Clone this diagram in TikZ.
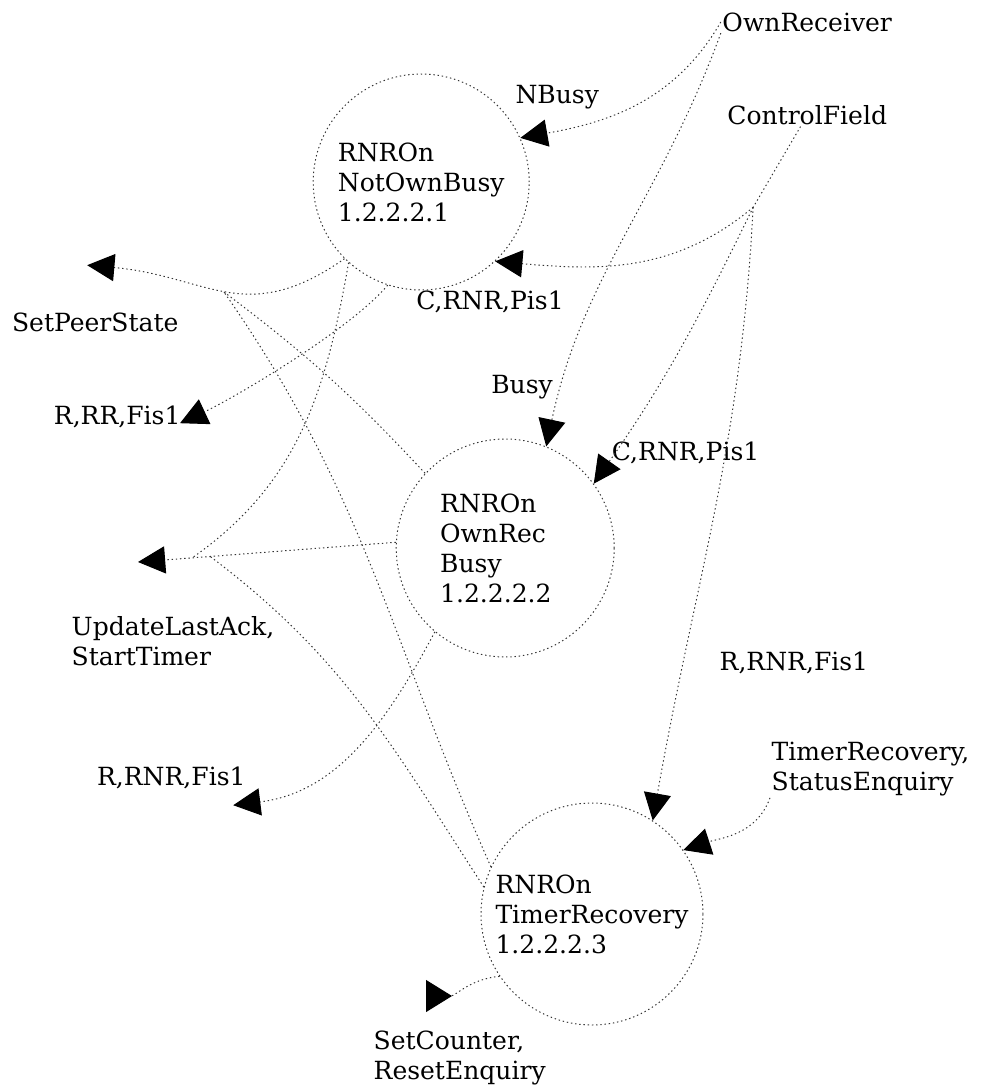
\documentclass[tikz,border=0pt]{standalone}
\usepackage{fontspec}
\setmainfont{DejaVu Serif}
\usetikzlibrary{arrows.meta}

\begin{document}
\begin{tikzpicture}[
    font=\fontsize{17.8}{21.3}\selectfont,
    dotline/.style={draw=black!80, line width=0.7pt, dash pattern=on 1pt off 2pt},
    proc/.style={circle, dotline, inner sep=0pt, align=left},
    flow/.style={dotline, -{Triangle[length=6.8mm, width=6.8mm, color=black]}},
    back/.style={dotline, -{Triangle[length=6.5mm, width=8mm, color=black, reversed]}},
    lbl/.style={inner sep=1pt, align=left}
]
    \useasboundingbox (0, 0) rectangle (24.55, -27.3);

    \node[proc, minimum size=5.4cm] (c1) at (10.53, -4.55) {RNROn\\NotOwnBusy\\1.2.2.2.1};
    \node[proc, minimum size=5.45cm, text width=3.25cm] (c2) at (12.63, -13.7) {RNROn\\OwnRec\\Busy\\1.2.2.2.2};
    \node[proc, minimum size=5.55cm] (c3) at (14.8, -22.85) {RNROn\\TimerRecovery\\1.2.2.2.3};

    \node[lbl] (own) at (20.18, -0.55) {OwnReceiver};
    \node[lbl] (cf) at (20.18, -2.88) {ControlField};
    \node[lbl, anchor=west] (ts) at (19.25, -19.23) {TimerRecovery,\\StatusEnquiry};

    \node[lbl] (l1) at (13.93, -2.43) {NBusy};
    \node[lbl] (l2) at (12.25, -7.55) {C,RNR,Pis1};
    \node[lbl] (l3) at (13.05, -9.68) {Busy};
    \node[lbl] (l4) at (17.14, -11.33) {C,RNR,Pis1};
    \node[lbl, anchor=west] (l5) at (17.95, -16.58) {R,RNR,Fis1};
    \node[lbl] (sp) at (2.38, -8.05) {SetPeerState};
    \node[lbl] (rr) at (2.93, -10.43) {R,RR,Fis1};
    \node[lbl, anchor=west] (ul) at (1.75, -16.03) {UpdateLastAck,\\StartTimer};
    \node[lbl, anchor=east] (rn) at (6.18, -19.45) {R,RNR,Fis1};
    \node[lbl, anchor=west] (sc) at (9.3, -26.45) {SetCounter,\\ResetEnquiry};

    \coordinate (cfj) at (18.83, -5.18);
    \coordinate (spe) at (2.18, -6.63);
    \coordinate (rre) at (4.5, -10.58);
    \coordinate (ule) at (3.45, -14.05);
    \coordinate (rle) at (5.83, -20.13);
    \coordinate (sce) at (10.65, -24.9);

    \draw[flow] (own.west) to[out=-120, in=10] (c1.24);
    \draw[flow] (own.south west) to[out=-110, in=78] (c2.68);
    \draw[dotline] (cf) -- (cfj);
    \draw[flow] (cfj) to[out=-140, in=-5] (c1.-47);
    \draw[flow] (cfj) to[out=-116, in=55] (c2.36);
    \draw[flow] (cfj) to[out=-93, in=80] (c3.57);
    \draw[flow] (ts.south west) to[out=-110, in=18] (c3.35);

    \draw[flow] (c1.225) to[out=-145, in=-5, looseness=1.2] coordinate[pos=0.5] (spj) (spe);
    \draw[flow] (c1.252) to[out=-130, in=25, looseness=0.6] (rre);
    \draw[flow] (c2.177) -- coordinate[pos=0.72] (ulb) coordinate[pos=0.79] (uld) (ule);
    \draw[dotline] (c1.228) to[out=-100, in=35] (uld);
    \draw[dotline] (c2.137) to[out=133, in=-37] (spj);
    \draw[flow] (c2.230) to[out=-118, in=7] (rle);
    \draw[dotline] (c3.155) to[out=114, in=-55] (spj);
    \draw[dotline] (c3.166) to[out=123, in=-37] (ulb);
    \draw[back] (c3.214) to[out=185, in=0] (sce);
\end{tikzpicture}
\end{document}
